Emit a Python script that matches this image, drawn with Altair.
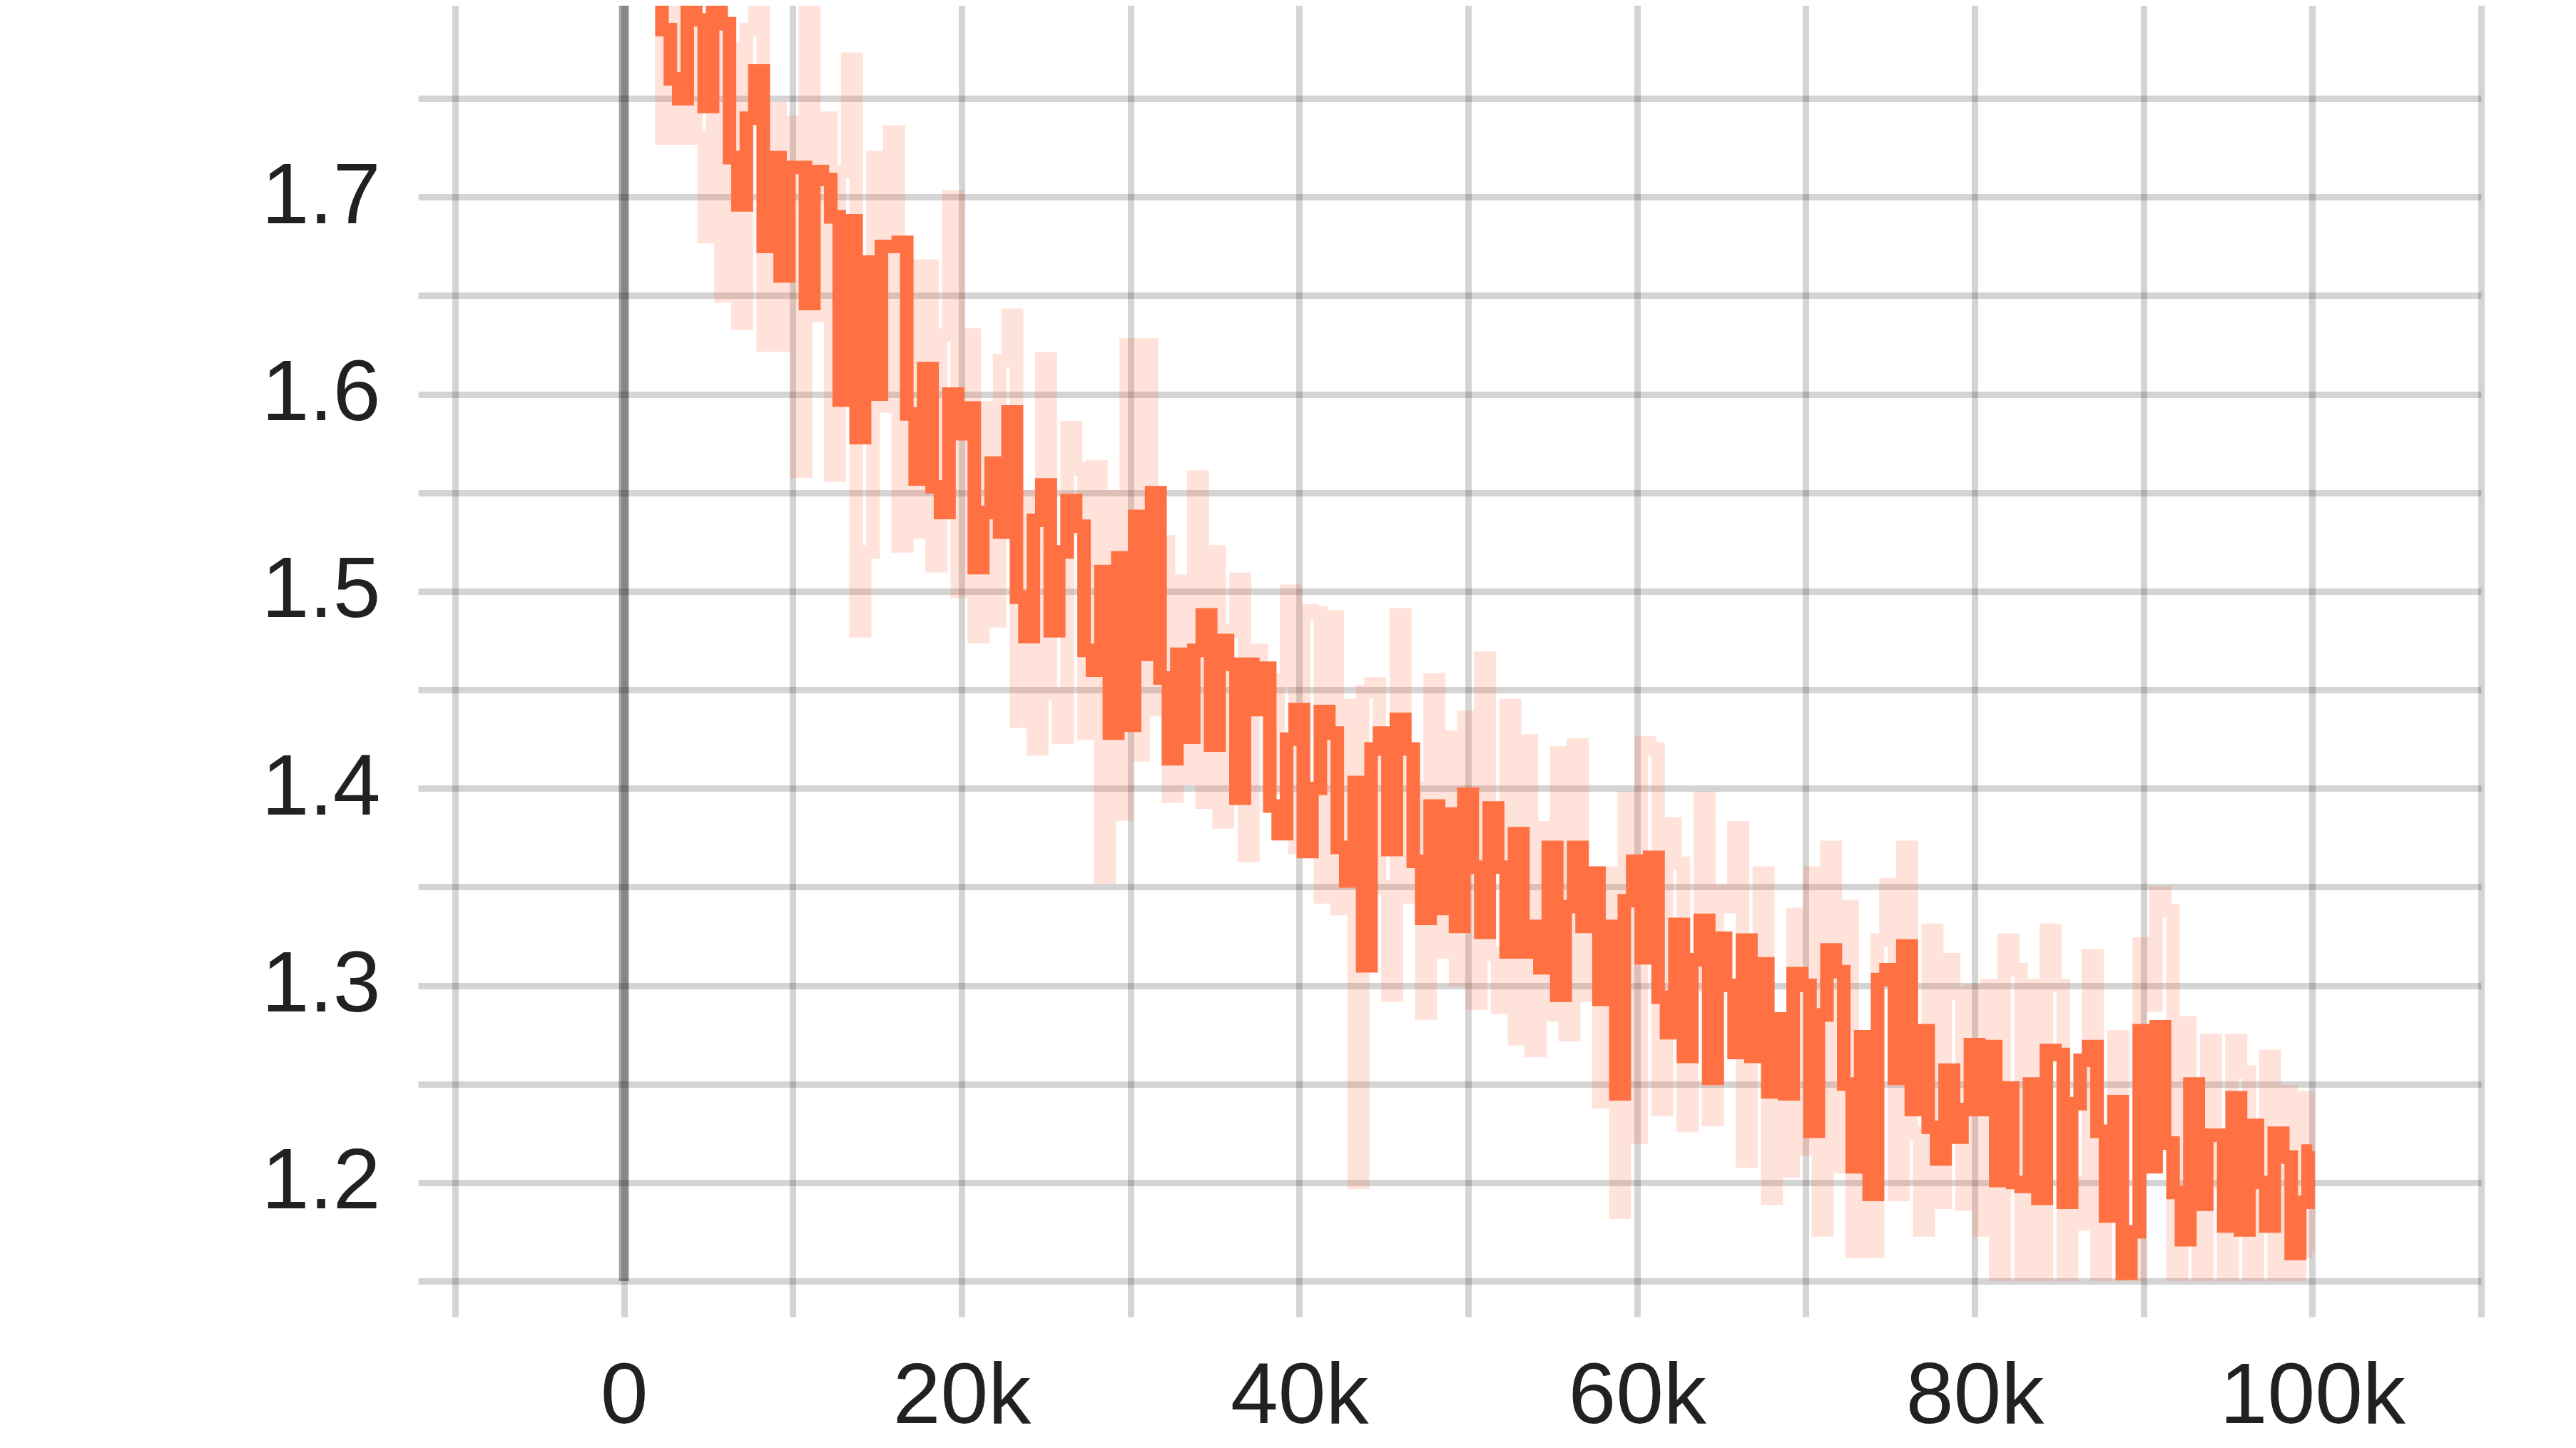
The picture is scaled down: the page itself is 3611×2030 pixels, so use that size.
import altair as alt
import pandas as pd

# Training steps (every 500 steps from 2k to 100k)
STEPS = list(range(2000, 100001, 500))

# Smoothed series (bold line), 20k-step blocks
SMOOTH_0_20K = [1.82, 1.785, 1.76, 1.75, 1.80, 1.79, 1.746, 1.795, 1.788, 1.72,
                1.696, 1.74, 1.764, 1.675, 1.72, 1.66, 1.715, 1.715, 1.646, 1.713,
                1.709, 1.69, 1.597, 1.688, 1.578, 1.667, 1.60, 1.675, 1.675, 1.677,
                1.59, 1.557, 1.613, 1.553, 1.54, 1.60, 1.58]
SMOOTH_20_40K = [1.593, 1.512, 1.54, 1.565, 1.53, 1.591, 1.497, 1.477, 1.536, 1.554,
                 1.48, 1.52, 1.546, 1.533, 1.47, 1.46, 1.51, 1.428, 1.517, 1.432,
                 1.538, 1.468, 1.55, 1.456, 1.415, 1.468, 1.426, 1.47, 1.488, 1.422,
                 1.475, 1.463, 1.395, 1.463, 1.44, 1.461, 1.391, 1.377, 1.425, 1.44,
                 1.368]
SMOOTH_40_60K = [1.40, 1.439, 1.428, 1.37, 1.353, 1.403, 1.31, 1.42, 1.428, 1.369,
                 1.435, 1.42, 1.363, 1.334, 1.391, 1.339, 1.387, 1.33, 1.397, 1.36,
                 1.327, 1.39, 1.36, 1.317, 1.377, 1.317, 1.33, 1.309, 1.37, 1.295,
                 1.34, 1.37, 1.33, 1.357, 1.293, 1.33, 1.245, 1.343, 1.363, 1.314]
SMOOTH_60_80K = [1.365, 1.294, 1.276, 1.331, 1.264, 1.313, 1.333, 1.253, 1.324, 1.30,
                 1.266, 1.323, 1.264, 1.311, 1.246, 1.283, 1.245, 1.306, 1.30, 1.226,
                 1.285, 1.318, 1.307, 1.25, 1.208, 1.274, 1.194, 1.303, 1.308, 1.253,
                 1.32, 1.237, 1.277, 1.228, 1.212, 1.257, 1.223, 1.237, 1.27, 1.237]
SMOOTH_80_100K = [1.269, 1.201, 1.248, 1.20, 1.198, 1.25, 1.192, 1.267, 1.265, 1.19,
                  1.24, 1.262, 1.269, 1.226, 1.183, 1.241, 1.154, 1.175, 1.277, 1.208,
                  1.279, 1.22, 1.195, 1.171, 1.25, 1.189, 1.224, 1.224, 1.178, 1.243,
                  1.176, 1.229, 1.20, 1.178, 1.225, 1.213, 1.164, 1.19, 1.216]

# Raw series (faint line)
RAW_0_20K = [1.86, 1.73, 1.82, 1.73, 1.80, 1.73, 1.68, 1.80, 1.65, 1.775,
             1.636, 1.785, 1.80, 1.625, 1.745, 1.625, 1.738, 1.561, 1.80, 1.64,
             1.74, 1.559, 1.713, 1.77, 1.48, 1.52, 1.72, 1.594, 1.733, 1.523,
             1.665, 1.53, 1.665, 1.513, 1.63, 1.70, 1.50]
RAW_20_40K = [1.63, 1.477, 1.593, 1.485, 1.617, 1.64, 1.434, 1.548, 1.42, 1.618,
              1.448, 1.426, 1.583, 1.562, 1.428, 1.563, 1.355, 1.548, 1.387, 1.625,
              1.417, 1.625, 1.44, 1.525, 1.396, 1.505, 1.405, 1.558, 1.393, 1.52,
              1.383, 1.48, 1.506, 1.366, 1.47, 1.455, 1.40, 1.455, 1.50, 1.37,
              1.49]
RAW_40_60K = [1.489, 1.345, 1.487, 1.339, 1.442, 1.20, 1.449, 1.453, 1.35, 1.295,
              1.488, 1.345, 1.40, 1.286, 1.455, 1.317, 1.426, 1.303, 1.436, 1.291,
              1.466, 1.316, 1.289, 1.442, 1.273, 1.424, 1.267, 1.38, 1.285, 1.418,
              1.275, 1.422, 1.295, 1.35, 1.241, 1.357, 1.185, 1.395, 1.223, 1.423]
RAW_60_80K = [1.42, 1.237, 1.382, 1.362, 1.229, 1.30, 1.395, 1.232, 1.348, 1.34,
              1.38, 1.211, 1.30, 1.357, 1.192, 1.26, 1.206, 1.336, 1.217, 1.357,
              1.176, 1.37, 1.208, 1.34, 1.165, 1.25, 1.165, 1.323, 1.351, 1.194,
              1.37, 1.225, 1.176, 1.328, 1.19, 1.313, 1.296, 1.189, 1.297, 1.176]
RAW_80_100K = [1.30, 1.153, 1.323, 1.308, 1.151, 1.30, 1.153, 1.328, 1.30, 1.14,
               1.20, 1.179, 1.315, 1.14, 1.22, 1.274, 1.145, 1.14, 1.321, 1.29,
               1.347, 1.338, 1.14, 1.281, 1.20, 1.14, 1.272, 1.20, 1.14, 1.272,
               1.256, 1.14, 1.20, 1.264, 1.14, 1.246, 1.14, 1.243, 1.165]

# Axis ticks
X_TICKS = list(range(-10000, 110001, 10000))
Y_TICKS = [1.15, 1.2, 1.25, 1.3, 1.35, 1.4, 1.45, 1.5, 1.55, 1.6, 1.65, 1.7, 1.75, 1.8]
X_DOMAIN = [-10000, 110000]
Y_DOMAIN = [1.15, 1.8]

smooth = SMOOTH_0_20K + SMOOTH_20_40K + SMOOTH_40_60K + SMOOTH_60_80K + SMOOTH_80_100K
raw = RAW_0_20K + RAW_20_40K + RAW_40_60K + RAW_60_80K + RAW_80_100K
n = min(len(STEPS), len(smooth), len(raw))
df = pd.DataFrame({"step": STEPS[:n], "smooth": smooth[:n], "raw": raw[:n]})
zero_df = pd.DataFrame({"step": [0]})

FONT = "Liberation Sans"
ORANGE = "#ff7043"

x_axis = alt.Axis(
    values=X_TICKS,
    labelExpr="(datum.value % 20000 == 0 && datum.value >= 0 && datum.value <= 100000) ? (datum.value == 0 ? '0' : (datum.value / 1000) + 'k') : ''",
    title=None, domain=False, grid=True,
    gridColor="black", gridOpacity=0.17, gridWidth=9,
    tickColor="black", tickOpacity=0.17, tickWidth=9, tickSize=50,
    labelPadding=53, labelFontSize=120, labelFont=FONT, labelColor="#212121",
    labelOverlap=False, labelFlush=False, labelBound=False, labelLimit=1000,
)
y_axis = alt.Axis(
    values=Y_TICKS,
    labelExpr="(round(datum.value * 100) % 10 == 0 && datum.value < 1.75) ? format(datum.value, '.1f') : ''",
    title=None, domain=False, grid=True,
    gridColor="black", gridOpacity=0.17, gridWidth=9,
    tickColor="black", tickOpacity=0.17, tickWidth=9, tickSize=52,
    labelPadding=53, labelFontSize=120, labelFont=FONT, labelColor="#212121",
    labelOverlap=False, labelFlush=False, labelBound=False, labelLimit=1000,
)
x_scale = alt.Scale(domain=X_DOMAIN, nice=False, zero=False)
y_scale = alt.Scale(domain=Y_DOMAIN, nice=False, zero=False)

zero_line = alt.Chart(zero_df).mark_rule(color="black", opacity=0.36, strokeWidth=14).encode(
    x=alt.X("step:Q", scale=x_scale, axis=x_axis)
)
raw_line = alt.Chart(df).mark_line(
    color=ORANGE, opacity=0.2, strokeWidth=19, clip=True, interpolate="step"
).encode(
    x=alt.X("step:Q", scale=x_scale, axis=x_axis),
    y=alt.Y("raw:Q", scale=y_scale, axis=y_axis),
)
smooth_line = alt.Chart(df).mark_line(
    color=ORANGE, strokeWidth=19, clip=True, interpolate="step"
).encode(
    x=alt.X("step:Q", scale=x_scale, axis=x_axis),
    y=alt.Y("smooth:Q", scale=y_scale, axis=y_axis),
)

chart = alt.layer(zero_line, raw_line, smooth_line).properties(
    width=2840,
    height=1796,
    autosize=alt.AutoSizeParams(type="none"),
    padding={"left": 630, "top": -8, "right": 120, "bottom": 230},
    background="white",
).configure_view(stroke=None)

chart.save("out.html", embed_options={"renderer": "svg", "actions": False})
